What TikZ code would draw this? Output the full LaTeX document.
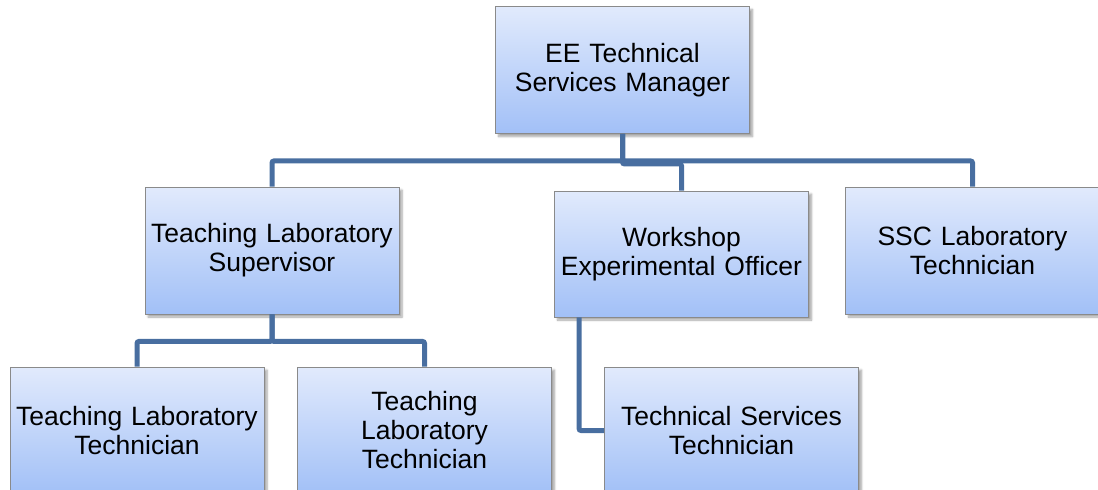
\documentclass[tikz,border=0pt]{standalone}
\usepackage{fontspec}
\setmainfont{Liberation Sans}
\usetikzlibrary{calc,shadows.blur}
\definecolor{boxtop}{RGB}{225,234,252}
\definecolor{boxbot}{RGB}{162,192,247}
\definecolor{boxline}{RGB}{138,138,138}
\definecolor{linkblue}{RGB}{72,110,160}
\tikzset{
  post/.style={rectangle, draw=boxline, line width=0.9pt,
    top color=boxtop, bottom color=boxbot,
    minimum width=253pt, minimum height=127pt, inner sep=2pt,
    align=center, text width=250pt,
    font=\fontsize{26.5pt}{29pt}\selectfont,
    blur shadow={shadow xshift=3pt, shadow yshift=-3pt, shadow blur steps=6, shadow opacity=35}},
  link/.style={draw=linkblue, line width=5pt, rounded corners=2pt}
}
\begin{document}
\begin{tikzpicture}[x=1pt,y=-1pt]
\useasboundingbox (0,0) rectangle (1098,490);
% management tier
\node[post] (mgr) at (622.5,70) {EE Technical\\Services Manager};
% second tier
\node[post, minimum width=252pt] (sup) at (272,250.5) {Teaching Laboratory\\Supervisor};
\node[post, minimum height=126pt] (wso) at (681.5,254) {Workshop\\Experimental Officer};
\node[post, minimum width=251pt] (ssc) at (972.5,250.5) {SSC Laboratory\\Technician};
% third tier
\node[post, minimum width=252pt] (tlt1) at (137,430.5) {Teaching Laboratory\\Technician};
\node[post] (tlt2) at (424.5,430.5) {Teaching\\Laboratory\\Technician};
\node[post] (tst) at (731.5,430.5) {Technical Services\\Technician};
% connectors
\path[link] (mgr.south) -- ++(0,27) -| (sup.north);
\path[link] (mgr.south) -- ++(0,27) -| (ssc.north);
\path[link] (mgr.south) -- ++(0,30) -| (wso.north);
\path[link] (sup.south) -- ++(0,27) -| (tlt1.north);
\path[link] (sup.south) -- ++(0,27) -| (tlt2.north);
\path[link] ($(wso.south west)+(25,0)$) |- (tst.west);
\end{tikzpicture}
\end{document}
